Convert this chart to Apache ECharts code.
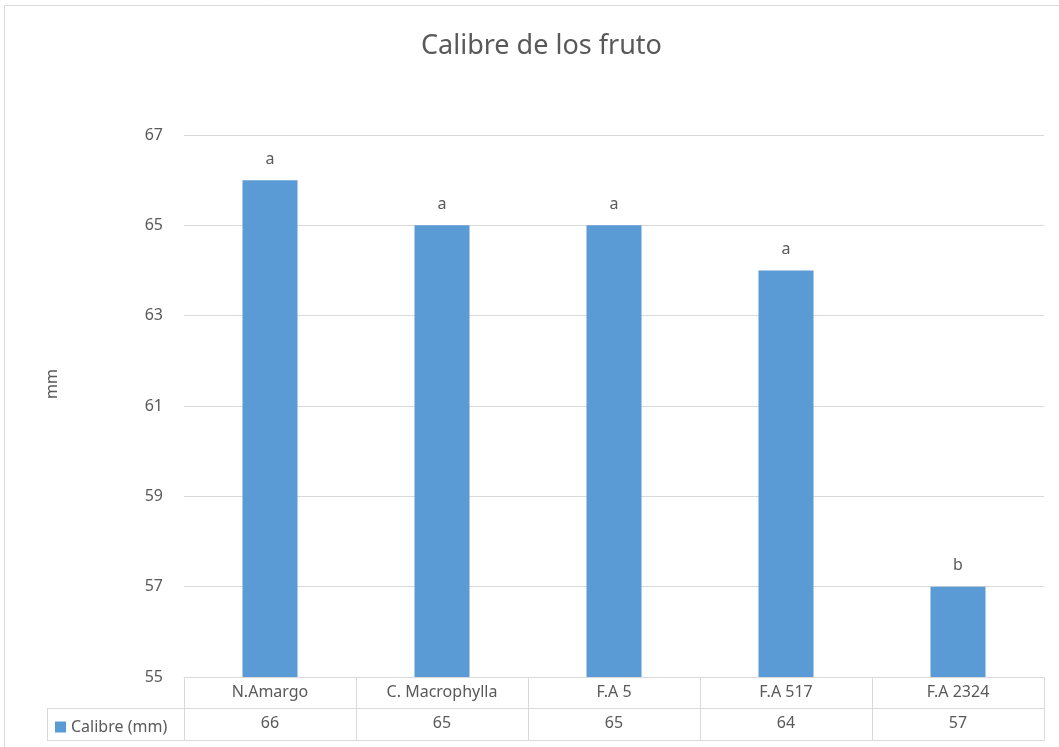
<!DOCTYPE html>
<html><head><meta charset="utf-8">
<script src="https://cdn.jsdelivr.net/npm/echarts@6/dist/echarts.min.js"></script>
<style>html,body{margin:0;padding:0;background:#fff}#c{width:1059px;height:747px}</style>
</head><body><div id="c"></div>
<script>
const categories = ['N.Amargo', 'C. Macrophylla', 'F.A 5', 'F.A 517', 'F.A 2324'];
const values = [66, 65, 65, 64, 57];
const letters = ['a', 'a', 'a', 'a', 'b'];
const seriesName = 'Calibre (mm)';
const titleText = 'Calibre de los fruto';
const yName = 'mm';

const FONT = 'Noto Sans';
const TXT = '#595959';
const LINE = '#d9d9d9';
const FS = 16;

const chart = echarts.init(document.getElementById('c'), null, {renderer: 'canvas'});
chart.setOption({
  animation: false,
  backgroundColor: '#fff',
  textStyle: {fontFamily: FONT},
  title: {
    text: titleText, left: 416, top: 28,
    textStyle: {fontFamily: FONT, fontSize: 27, fontWeight: 'normal', color: TXT}
  },
  legend: {
    data: [seriesName], left: 50, top: 714, icon: 'rect', itemWidth: 11, itemHeight: 11, itemGap: 5,
    textStyle: {fontFamily: FONT, fontSize: FS, color: TXT}
  },
  grid: {left: 184, right: 15, top: 135, bottom: 70},
  xAxis: [
    {
      type: 'category', data: categories, position: 'bottom',
      axisLine: {show: true, onZero: false, lineStyle: {color: LINE, width: 1}},
      axisTick: {show: true, interval: 0, length: 63, lineStyle: {color: LINE}},
      axisLabel: {interval: 0, margin: 7, fontSize: FS, color: TXT, fontFamily: FONT}
    },
    {
      type: 'category', data: values.map(String), position: 'bottom', offset: 31,
      axisLine: {show: true, onZero: false, lineStyle: {color: LINE, width: 1}},
      axisTick: {show: false},
      axisLabel: {interval: 0, margin: 7, fontSize: FS, color: TXT, fontFamily: FONT}
    },
    {
      type: 'category', data: categories, position: 'bottom', offset: 63,
      axisLine: {show: true, onZero: false, lineStyle: {color: LINE, width: 1}},
      axisTick: {show: false}, axisLabel: {show: false}
    }
  ],
  yAxis: {
    type: 'value', min: 55, max: 67, interval: 2,
    name: yName, nameLocation: 'middle', nameGap: 124, nameRotate: 90,
    nameTextStyle: {fontSize: FS, color: TXT, fontFamily: FONT, padding: [0, 0, 0, 44]},
    axisLine: {show: false}, axisTick: {show: false},
    axisLabel: {margin: 21, fontSize: FS, color: TXT, fontFamily: FONT},
    splitLine: {lineStyle: {color: LINE, width: 1}}
  },
  series: [{
    name: seriesName, type: 'bar', xAxisIndex: 0, data: values, barWidth: 55,
    itemStyle: {color: '#5b9bd5'},
    label: {
      show: true, position: 'top', distance: 13, fontSize: FS, color: TXT, fontFamily: FONT,
      formatter: p => letters[p.dataIndex]
    }
  }],
  graphic: [
    {type: 'rect', shape: {x: 4.5, y: 5.5, width: 1100, height: 800}, style: {fill: null, stroke: LINE, lineWidth: 1}, silent: true},
    {type: 'line', shape: {x1: 47, y1: 708.5, x2: 184, y2: 708.5}, style: {stroke: LINE, lineWidth: 1}},
    {type: 'line', shape: {x1: 47, y1: 740.5, x2: 184, y2: 740.5}, style: {stroke: LINE, lineWidth: 1}},
    {type: 'line', shape: {x1: 47.5, y1: 708, x2: 47.5, y2: 741}, style: {stroke: LINE, lineWidth: 1}}
  ]
});
</script></body></html>
